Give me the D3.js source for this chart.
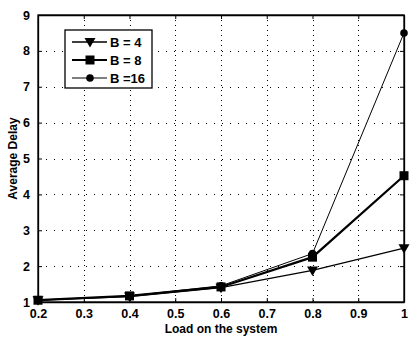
<!DOCTYPE html>
<html lang="en">
<head>
<meta charset="utf-8">
<script src="https://d3js.org/d3.v7.min.js"></script>
<style>
  body { margin: 0; background: #fff; }
  text { font-family: "Liberation Sans", Arial, sans-serif; font-weight: bold; fill: #000; }
</style>
</head>
<body>
<script>
    const loads = [0.2, 0.4, 0.6, 0.8, 1.0];
    const delayB4 = [1.05, 1.15, 1.40, 1.88, 2.50];
    const delayB8 = [1.05, 1.17, 1.42, 2.25, 4.52];
    const delayB16 = [1.05, 1.17, 1.45, 2.35, 8.50];
    const seriesNames = ["B = 4", "B = 8", "B =16"];
    const xTicks = [0.2, 0.3, 0.4, 0.5, 0.6, 0.7, 0.8, 0.9, 1];
    const yTicks = [1, 2, 3, 4, 5, 6, 7, 8, 9];

    const W = 416, H = 343;
    const margin = { top: 15, right: 12, bottom: 41, left: 38 };
    const w = W - margin.left - margin.right;
    const h = H - margin.top - margin.bottom;

    const svg = d3.select("body").append("svg")
        .attr("width", W)
        .attr("height", H);

    const g = svg.append("g")
        .attr("transform", "translate(" + margin.left + "," + margin.top + ")");

    const x = d3.scaleLinear().domain([0.2, 1]).range([0, w]);
    const y = d3.scaleLinear().domain([1, 9]).range([h, 0]);

    // dotted grid, sparse like the original
    g.selectAll(".vgrid").data(xTicks.slice(1, -1)).enter().append("line")
        .attr("x1", d => Math.round(x(d)) + 0.5).attr("x2", d => Math.round(x(d)) + 0.5)
        .attr("y1", 0).attr("y2", h)
        .attr("stroke", "#000").attr("stroke-width", 1).attr("stroke-dasharray", "1,4");
    g.selectAll(".hgrid").data(yTicks.slice(1, -1)).enter().append("line")
        .attr("y1", d => Math.round(y(d)) + 0.5).attr("y2", d => Math.round(y(d)) + 0.5)
        .attr("x1", 0).attr("x2", w)
        .attr("stroke", "#000").attr("stroke-width", 1).attr("stroke-dasharray", "1,7");

    // axes, ticks inward on all four sides
    const xAxis = d3.axisBottom(x).tickValues(xTicks).tickSizeInner(-4).tickSizeOuter(0)
        .tickPadding(7).tickFormat(d => d === 1 ? "1" : d3.format(".1f")(d));
    const yAxis = d3.axisLeft(y).tickValues(yTicks).tickSizeInner(-4).tickSizeOuter(0).tickPadding(8);

    const gx = g.append("g").attr("transform", "translate(0," + h + ")").call(xAxis);
    const gy = g.append("g").call(yAxis);
    g.append("g").call(d3.axisTop(x).tickValues(xTicks).tickSizeInner(-4).tickSizeOuter(0).tickFormat(""));
    g.append("g").attr("transform", "translate(" + w + ",0)")
        .call(d3.axisRight(y).tickValues(yTicks).tickSizeInner(-4).tickSizeOuter(0).tickFormat(""));

    g.selectAll(".domain").attr("stroke", "#000").attr("stroke-width", 1.3);
    g.selectAll(".tick line").attr("stroke", "#000");
    gx.selectAll("text").style("font-size", "12.5px");
    gy.selectAll("text").style("font-size", "12.5px");

    g.append("rect").attr("x", 0).attr("y", 0).attr("width", w).attr("height", h)
        .attr("fill", "none").attr("stroke", "#000").attr("stroke-width", 1.3);

    // axis labels
    svg.append("text")
        .attr("x", margin.left + w / 2).attr("y", 333)
        .attr("text-anchor", "middle").style("font-size", "12px")
        .text("Load on the system");
    svg.append("text")
        .attr("transform", "translate(17," + (margin.top + h / 2) + ") rotate(-90)")
        .attr("text-anchor", "middle").style("font-size", "12px")
        .text("Average Delay");

    const series = [
        { values: delayB4, width: 1.3, marker: "tri" },
        { values: delayB8, width: 2.2, marker: "sq" },
        { values: delayB16, width: 1, marker: "dot" }
    ];

    const line = d3.line().x((d, i) => x(loads[i])).y(d => y(d));

    function drawMarker(sel, type) {
        if (type === "tri") {
            sel.append("path").attr("d", "M-5.5,-4 L5.5,-4 L0,5.5 Z").attr("fill", "#000");
        } else if (type === "sq") {
            sel.append("rect").attr("x", -4.5).attr("y", -4.5).attr("width", 9).attr("height", 9).attr("fill", "#000");
        } else {
            sel.append("circle").attr("r", 3.8).attr("fill", "#000");
        }
    }

    series.forEach(s => {
        g.append("path").datum(s.values)
            .attr("d", line)
            .attr("fill", "none").attr("stroke", "#000").attr("stroke-width", s.width);
        s.values.forEach((v, i) => {
            const m = g.append("g").attr("transform", "translate(" + x(loads[i]) + "," + y(v) + ")");
            drawMarker(m, s.marker);
        });
    });

    // legend
    const legend = svg.append("g").attr("transform", "translate(65,30)");
    legend.append("rect").attr("x", 0).attr("y", 0).attr("width", 87).attr("height", 58)
        .attr("fill", "#fff").attr("stroke", "#000").attr("stroke-width", 1.3);
    series.forEach((s, i) => {
        const ly = 12 + i * 18;
        legend.append("line").attr("x1", 7).attr("x2", 42).attr("y1", ly).attr("y2", ly)
            .attr("stroke", "#000").attr("stroke-width", s.width);
        drawMarker(legend.append("g").attr("transform", "translate(25," + ly + ")"), s.marker);
        legend.append("text").attr("x", 45).attr("y", ly + 4.5).style("font-size", "13px").text(seriesNames[i]);
    });
</script>
</body>
</html>
